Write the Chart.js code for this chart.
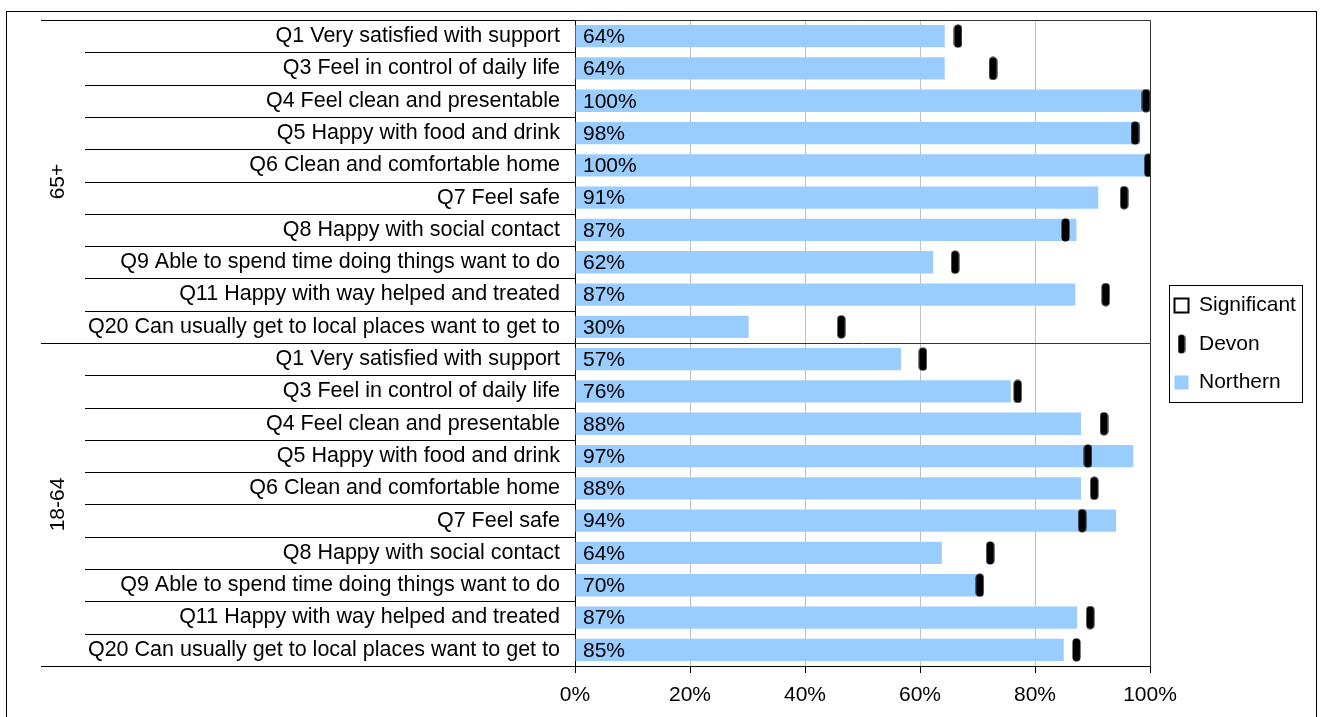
<!DOCTYPE html>
<html lang="en">
<head>
    <meta charset="UTF-8">
    <title>Northern vs Devon - outcome questions by age group</title>
    <script src="https://cdn.jsdelivr.net/npm/chart.js"></script>
    <style>
        body {
            margin: 0;
            background: #fff;
        }
        canvas {
            display: block;
        }
    </style>
</head>
<body>
    <canvas id="chart" width="1321" height="717"></canvas>

    <script>
        const questions = [
            'Q1 Very satisfied with support',
            'Q3 Feel in control of daily life',
            'Q4 Feel clean and presentable',
            'Q5 Happy with food and drink',
            'Q6 Clean and comfortable home',
            'Q7 Feel safe',
            'Q8 Happy with social contact',
            'Q9 Able to spend time doing things want to do',
            'Q11 Happy with way helped and treated',
            'Q20 Can usually get to local places want to get to'
        ];
        const groups = ['65+', '18-64'];
        const labels = questions.concat(questions);

        // first 10 = 65+, last 10 = 18-64
        const northern = [64.3, 64.3, 100, 98.3, 100, 91.0, 87.2, 62.3, 87.0, 30.2,
                          56.7, 75.8, 88.0, 97.1, 88.0, 94.1, 63.8, 69.9, 87.3, 85.0];
        const devon = [66.6, 72.7, 99.3, 97.4, 99.7, 95.5, 85.3, 66.1, 92.3, 46.3,
                       60.5, 77.0, 92.0, 89.2, 90.3, 88.2, 72.2, 70.4, 89.6, 87.2];
        const xTicks = [0, 20, 40, 60, 80, 100];

        const FONT = '"Liberation Sans", Arial, sans-serif';
        const SIZE = 21;

        function pill(w, h) {
            const c = document.createElement('canvas');
            c.width = w;
            c.height = h;
            const g = c.getContext('2d');
            g.fillStyle = '#000';
            g.beginPath();
            g.roundRect(0.5, 0.5, w - 1, h - 1, (w - 1) / 2);
            g.fill();
            return c;
        }
        const devonMarker = pill(9, 24);
        const devonLegend = pill(8, 20);

        // row lines, group labels, borders and the % labels inside the bars
        const decorations = {
            id: 'decorations',
            afterLayout(chart) {
                // centre the legend on the plot and leave a gap after the 100% line
                const L = chart.legend;
                const area = chart.chartArea;
                const dy = (L.top + L.bottom) / 2 - (area.top + area.bottom) / 2 - 1;
                L.top -= dy;
                L.bottom -= dy;
                L.left += 7;
                L.right += 7;
            },
            afterDatasetsDraw(chart) {
                const ctx = chart.ctx;
                const meta = chart.getDatasetMeta(2);
                ctx.save();
                ctx.font = SIZE + 'px ' + FONT;
                ctx.fillStyle = '#000';
                ctx.textBaseline = 'middle';
                ctx.textAlign = 'left';
                meta.data.forEach((bar, i) => {
                    ctx.fillText(Math.round(northern[i]) + '%', chart.chartArea.left + 8, bar.y + 1);
                });
                ctx.restore();
            },
            afterDraw(chart) {
                const ctx = chart.ctx;
                const area = chart.chartArea;
                const rowH = (area.bottom - area.top) / labels.length;
                ctx.save();
                ctx.lineWidth = 1;
                ctx.strokeStyle = '#000';
                for (let i = 0; i <= labels.length; i++) {
                    const py = Math.round(area.top + i * rowH) + 0.5;
                    const isGroup = i % questions.length === 0;
                    ctx.beginPath();
                    ctx.moveTo(isGroup ? 41 : 85, py);
                    ctx.lineTo(area.left, py);
                    ctx.stroke();
                }
                // plot frame + group divider
                ctx.strokeStyle = '#333';
                const mid = Math.round(area.top + questions.length * rowH) + 0.5;
                ctx.beginPath();
                ctx.moveTo(area.left, mid);
                ctx.lineTo(area.right, mid);
                ctx.moveTo(area.left, Math.round(area.top) + 0.5);
                ctx.lineTo(Math.round(area.right) + 0.5, Math.round(area.top) + 0.5);
                ctx.lineTo(Math.round(area.right) + 0.5, Math.round(area.bottom) + 0.5);
                ctx.stroke();

                // group labels
                ctx.fillStyle = '#000';
                ctx.font = SIZE + 'px ' + FONT;
                ctx.textAlign = 'center';
                ctx.textBaseline = 'middle';
                groups.forEach((g, gi) => {
                    const cy = area.top + (gi + 0.5) * questions.length * rowH;
                    ctx.save();
                    ctx.translate(58, cy);
                    ctx.rotate(-Math.PI / 2);
                    ctx.fillText(g, 0, 0);
                    ctx.restore();
                });

                // legend frame
                const hb = chart.legend.legendHitBoxes;
                if (hb && hb.length) {
                    const l = Math.min(...hb.map(h => h.left)) - 6;
                    const r = Math.max(...hb.map(h => h.left + h.width)) + 6;
                    const t = Math.min(...hb.map(h => h.top)) - 10;
                    const b = Math.max(...hb.map(h => h.top + h.height)) + 9;
                    ctx.strokeStyle = '#000';
                    ctx.strokeRect(Math.round(l) + 0.5, Math.round(t) + 0.5, Math.round(r - l), Math.round(b - t));
                }

                // outer frame
                ctx.strokeStyle = '#000';
                ctx.strokeRect(6.5, 11.5, 1310, 720);
                ctx.restore();
            }
        };

        const ctx = document.getElementById('chart').getContext('2d');
        const chart = new Chart(ctx, {
            type: 'bar',
            data: {
                labels: labels,
                datasets: [
                    {
                        type: 'line',
                        label: 'Significant',
                        data: [],
                        indexAxis: 'y',
                        showLine: false,
                        order: -1
                    },
                    {
                        type: 'line',
                        label: 'Devon',
                        data: devon,
                        indexAxis: 'y',
                        showLine: false,
                        pointStyle: devonMarker,
                        borderColor: '#000',
                        backgroundColor: '#000',
                        order: 0
                    },
                    {
                        label: 'Northern',
                        data: northern,
                        backgroundColor: '#99ccff',
                        barPercentage: 0.69,
                        categoryPercentage: 1,
                        order: 1
                    }
                ]
            },
            options: {
                indexAxis: 'y',
                responsive: false,
                animation: false,
                layout: { padding: { top: 20, right: 10, left: 0, bottom: 0 } },
                plugins: {
                    tooltip: { enabled: false },
                    legend: {
                        position: 'right',
                        labels: {
                            usePointStyle: true,
                            boxWidth: 14,
                            boxHeight: 14,
                            padding: 17.5,
                            color: '#000',
                            font: { family: FONT, size: SIZE },
                            generateLabels: () => [
                                { text: 'Significant', pointStyle: 'rect', fillStyle: '#fff', strokeStyle: '#000', lineWidth: 2, datasetIndex: 0 },
                                { text: 'Devon', pointStyle: devonLegend, fillStyle: '#000', strokeStyle: '#000', lineWidth: 0, datasetIndex: 1 },
                                { text: 'Northern', pointStyle: 'rect', fillStyle: '#99ccff', strokeStyle: '#99ccff', lineWidth: 0, datasetIndex: 2 }
                            ]
                        }
                    }
                },
                scales: {
                    x: {
                        min: 0,
                        max: 100,
                        afterBuildTicks: s => { s.ticks = xTicks.map(v => ({ value: v })); },
                        afterFit: s => { s.height = 51; },
                        grid: { color: '#c0c0c0', tickColor: '#000', tickLength: 7 },
                        border: { color: '#000' },
                        ticks: {
                            color: '#000',
                            padding: 10,
                            maxRotation: 0,
                            font: { family: FONT, size: SIZE },
                            callback: v => v + '%'
                        }
                    },
                    y: {
                        offset: true,
                        afterFit: s => {
                            s.width = 575;
                            // labels sit inside their rows, no overhang needed
                            s.paddingTop = 0;
                            s.paddingBottom = 0;
                        },
                        grid: { display: false, drawTicks: false },
                        border: { color: '#000' },
                        ticks: {
                            color: '#000',
                            padding: 15,
                            autoSkip: false,
                            font: { family: FONT, size: 21.5 }
                        }
                    }
                }
            },
            plugins: [decorations]
        });

        // pin the 100% line to where the reference has it
        const dRight = chart.chartArea.right - 1150;
        if (Math.abs(dRight) > 0.5) {
            chart.options.layout.padding.right = Math.max(0, chart.options.layout.padding.right + dRight);
            chart.update('none');
        }
    </script>
</body>
</html>
